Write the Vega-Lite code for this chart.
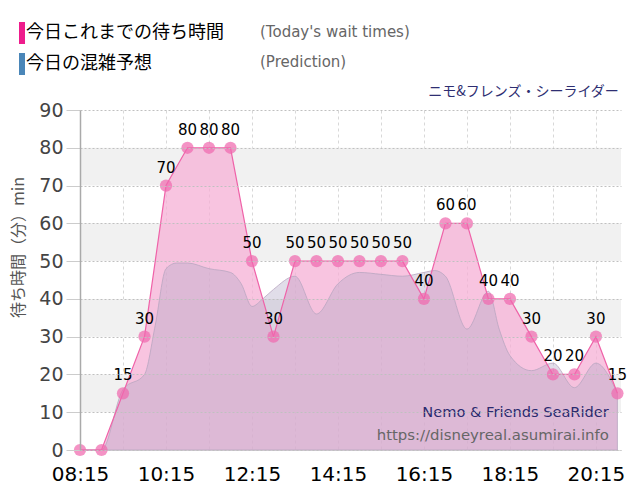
{
  "$schema": "https://vega.github.io/schema/vega-lite/v6.json",
  "width": 541,
  "height": 340,
  "autosize": {"type": "none"},
  "padding": {"left": 80, "top": 110, "right": 19, "bottom": 50},
  "background": "white",
  "config": {
    "view": {"stroke": null, "fill": "#f9f9f9"},
    "font": "DejaVu Sans",
    "axisY": {
      "grid": true, "ticks": true,
      "labelFontSize": 19, "labelColor": "#444", "labelFont": "DejaVu Sans",
      "tickColor": "#cccccc", "tickSize": 14, "labelPadding": 3,
      "domainColor": "#aaaaaa", "domainWidth": 1.5,
      "gridColor": "#c0c0c0", "gridDash": [2, 2], "gridOpacity": 1,
      "titleFont": "Noto Sans CJK JP", "titleFontSize": 16, "titleColor": "#555555",
      "titleFontWeight": "normal", "titlePadding": 12, "zindex": 1
    },
    "axisX": {
      "grid": true,
      "labelFontSize": 20, "labelColor": "#000000", "labelFont": "DejaVu Sans",
      "tickSize": 0, "labelPadding": 14, "domainColor": "#dddddd",
      "gridColor": "#d8d8d8", "gridDash": [3, 3], "labelOverlap": false, "labelFlush": false, "zindex": 1
    }
  },
  "datasets": {
    "wait": [
      {"t": "2024-01-01T08:15:00", "v": 0},
      {"t": "2024-01-01T08:45:00", "v": 0},
      {"t": "2024-01-01T09:15:00", "v": 15},
      {"t": "2024-01-01T09:45:00", "v": 30},
      {"t": "2024-01-01T10:15:00", "v": 70},
      {"t": "2024-01-01T10:45:00", "v": 80},
      {"t": "2024-01-01T11:15:00", "v": 80},
      {"t": "2024-01-01T11:45:00", "v": 80},
      {"t": "2024-01-01T12:15:00", "v": 50},
      {"t": "2024-01-01T12:45:00", "v": 30},
      {"t": "2024-01-01T13:15:00", "v": 50},
      {"t": "2024-01-01T13:45:00", "v": 50},
      {"t": "2024-01-01T14:15:00", "v": 50},
      {"t": "2024-01-01T14:45:00", "v": 50},
      {"t": "2024-01-01T15:15:00", "v": 50},
      {"t": "2024-01-01T15:45:00", "v": 50},
      {"t": "2024-01-01T16:15:00", "v": 40},
      {"t": "2024-01-01T16:45:00", "v": 60},
      {"t": "2024-01-01T17:15:00", "v": 60},
      {"t": "2024-01-01T17:45:00", "v": 40},
      {"t": "2024-01-01T18:15:00", "v": 40},
      {"t": "2024-01-01T18:45:00", "v": 30},
      {"t": "2024-01-01T19:15:00", "v": 20},
      {"t": "2024-01-01T19:45:00", "v": 20},
      {"t": "2024-01-01T20:15:00", "v": 30},
      {"t": "2024-01-01T20:45:00", "v": 15}
    ],
    "pred": [
      {"t": "2024-01-01T08:15:00", "v": 0},
      {"t": "2024-01-01T08:45:00", "v": 0},
      {"t": "2024-01-01T09:15:00", "v": 16},
      {"t": "2024-01-01T09:45:00", "v": 20},
      {"t": "2024-01-01T10:00:00", "v": 33},
      {"t": "2024-01-01T10:15:00", "v": 48},
      {"t": "2024-01-01T10:30:00", "v": 49.5},
      {"t": "2024-01-01T10:45:00", "v": 49.5},
      {"t": "2024-01-01T11:15:00", "v": 48},
      {"t": "2024-01-01T11:45:00", "v": 47},
      {"t": "2024-01-01T12:00:00", "v": 44},
      {"t": "2024-01-01T12:15:00", "v": 38},
      {"t": "2024-01-01T12:30:00", "v": 40},
      {"t": "2024-01-01T12:45:00", "v": 42.5},
      {"t": "2024-01-01T13:15:00", "v": 46},
      {"t": "2024-01-01T13:45:00", "v": 36},
      {"t": "2024-01-01T14:15:00", "v": 44},
      {"t": "2024-01-01T14:45:00", "v": 47},
      {"t": "2024-01-01T15:15:00", "v": 46.5},
      {"t": "2024-01-01T15:45:00", "v": 46},
      {"t": "2024-01-01T16:15:00", "v": 47},
      {"t": "2024-01-01T16:30:00", "v": 47.5},
      {"t": "2024-01-01T16:45:00", "v": 46},
      {"t": "2024-01-01T17:15:00", "v": 32},
      {"t": "2024-01-01T17:45:00", "v": 42},
      {"t": "2024-01-01T18:00:00", "v": 32},
      {"t": "2024-01-01T18:15:00", "v": 25},
      {"t": "2024-01-01T18:45:00", "v": 21},
      {"t": "2024-01-01T19:15:00", "v": 23},
      {"t": "2024-01-01T19:45:00", "v": 16.5},
      {"t": "2024-01-01T20:15:00", "v": 23},
      {"t": "2024-01-01T20:45:00", "v": 15}
    ],
    "bands": [
      {"v": 10, "v2": 20},
      {"v": 30, "v2": 40},
      {"v": 50, "v2": 60},
      {"v": 70, "v2": 80}
    ],
    "legend": [
      {"series": "今日これまでの待ち時間", "en": "(Today's wait times)"},
      {"series": "今日の混雑予想", "en": "(Prediction)"}
    ]
  },
  "layer": [
    {
      "data": {"name": "bands"},
      "mark": {"type": "rect", "fill": "#f1f1f1"},
      "encoding": {
        "x": {
          "datum": {"year": 2024, "month": 1, "date": 1, "hours": 8, "minutes": 15}, "type": "temporal", "title": null,
          "scale": {"domain": [
            {"year": 2024, "month": 1, "date": 1, "hours": 8, "minutes": 15},
            {"year": 2024, "month": 1, "date": 1, "hours": 20, "minutes": 50}
          ]},
          "axis": {
            "grid": true,
            "values": [
              {"year": 2024, "month": 1, "date": 1, "hours": 8, "minutes": 15},
              {"year": 2024, "month": 1, "date": 1, "hours": 8, "minutes": 45},
              {"year": 2024, "month": 1, "date": 1, "hours": 9, "minutes": 15},
              {"year": 2024, "month": 1, "date": 1, "hours": 9, "minutes": 45},
              {"year": 2024, "month": 1, "date": 1, "hours": 10, "minutes": 15},
              {"year": 2024, "month": 1, "date": 1, "hours": 10, "minutes": 45},
              {"year": 2024, "month": 1, "date": 1, "hours": 11, "minutes": 15},
              {"year": 2024, "month": 1, "date": 1, "hours": 11, "minutes": 45},
              {"year": 2024, "month": 1, "date": 1, "hours": 12, "minutes": 15},
              {"year": 2024, "month": 1, "date": 1, "hours": 12, "minutes": 45},
              {"year": 2024, "month": 1, "date": 1, "hours": 13, "minutes": 15},
              {"year": 2024, "month": 1, "date": 1, "hours": 13, "minutes": 45},
              {"year": 2024, "month": 1, "date": 1, "hours": 14, "minutes": 15},
              {"year": 2024, "month": 1, "date": 1, "hours": 14, "minutes": 45},
              {"year": 2024, "month": 1, "date": 1, "hours": 15, "minutes": 15},
              {"year": 2024, "month": 1, "date": 1, "hours": 15, "minutes": 45},
              {"year": 2024, "month": 1, "date": 1, "hours": 16, "minutes": 15},
              {"year": 2024, "month": 1, "date": 1, "hours": 16, "minutes": 45},
              {"year": 2024, "month": 1, "date": 1, "hours": 17, "minutes": 15},
              {"year": 2024, "month": 1, "date": 1, "hours": 17, "minutes": 45},
              {"year": 2024, "month": 1, "date": 1, "hours": 18, "minutes": 15},
              {"year": 2024, "month": 1, "date": 1, "hours": 18, "minutes": 45},
              {"year": 2024, "month": 1, "date": 1, "hours": 19, "minutes": 15},
              {"year": 2024, "month": 1, "date": 1, "hours": 19, "minutes": 45},
              {"year": 2024, "month": 1, "date": 1, "hours": 20, "minutes": 15},
              {"year": 2024, "month": 1, "date": 1, "hours": 20, "minutes": 45}
            ],
            "labelExpr": "(hours(datum.value) * 60 + minutes(datum.value) - 495) % 120 == 0 ? timeFormat(datum.value, '%H:%M') : ''"
          }
        },
        "x2": {"datum": {"year": 2024, "month": 1, "date": 1, "hours": 20, "minutes": 50}},
        "y": {
          "field": "v", "type": "quantitative", "title": "待ち時間（分）min",
          "scale": {"domain": [0, 90], "nice": false},
          "axis": {"grid": true, "ticks": true, "zindex": 1, "gridOpacity": 1, "values": [0, 10, 20, 30, 40, 50, 60, 70, 80, 90], "titleY": 137}
        },
        "y2": {"field": "v2"}
      }
    },
    {
      "data": {"name": "wait"},
      "mark": {"type": "area", "interpolate": "linear", "fill": "#f5b0d5", "fillOpacity": 0.75},
      "encoding": {
        "x": {"field": "t", "type": "temporal", "title": null},
        "y": {"field": "v", "type": "quantitative", "title": "待ち時間（分）min", "axis": {"grid": true, "ticks": true, "zindex": 1, "gridOpacity": 1, "values": [0, 10, 20, 30, 40, 50, 60, 70, 80, 90], "titleY": 137}}
      }
    },
    {
      "data": {"name": "pred"},
      "mark": {"type": "area", "interpolate": "monotone", "fill": "#b4aac8", "fillOpacity": 0.4, "stroke": "#b9a6c0", "strokeWidth": 0.8},
      "encoding": {
        "x": {"field": "t", "type": "temporal", "title": null},
        "y": {"field": "v", "type": "quantitative", "title": "待ち時間（分）min", "axis": {"grid": true, "ticks": true, "zindex": 1, "gridOpacity": 1, "values": [0, 10, 20, 30, 40, 50, 60, 70, 80, 90], "titleY": 137}}
      }
    },
    {
      "data": {"name": "wait"},
      "mark": {"type": "line", "interpolate": "linear", "color": "#ef62a8", "strokeWidth": 1.2},
      "encoding": {
        "x": {"field": "t", "type": "temporal", "title": null},
        "y": {"field": "v", "type": "quantitative", "title": "待ち時間（分）min", "axis": {"grid": true, "ticks": true, "zindex": 1, "gridOpacity": 1, "values": [0, 10, 20, 30, 40, 50, 60, 70, 80, 90], "titleY": 137}}
      }
    },
    {
      "data": {"name": "wait"},
      "mark": {"type": "point", "filled": true, "size": 150, "color": "#f06aae", "opacity": 0.72},
      "encoding": {
        "x": {"field": "t", "type": "temporal", "title": null},
        "y": {"field": "v", "type": "quantitative", "title": "待ち時間（分）min", "axis": {"grid": true, "ticks": true, "zindex": 1, "gridOpacity": 1, "values": [0, 10, 20, 30, 40, 50, 60, 70, 80, 90], "titleY": 137}}
      }
    },
    {
      "data": {"name": "wait"},
      "transform": [{"filter": "datum.v > 0"}],
      "mark": {"type": "text", "dy": -18, "fontSize": 15, "color": "#000000", "font": "DejaVu Sans"},
      "encoding": {
        "x": {"field": "t", "type": "temporal", "title": null},
        "y": {"field": "v", "type": "quantitative", "title": "待ち時間（分）min", "axis": {"grid": true, "ticks": true, "zindex": 1, "gridOpacity": 1, "values": [0, 10, 20, 30, 40, 50, 60, 70, 80, 90], "titleY": 137}},
        "text": {"field": "v", "type": "quantitative"}
      }
    },
    {
      "data": {"values": [{"note": "Nemo & Friends SeaRider"}]},
      "mark": {"type": "text", "align": "right", "baseline": "middle", "fontSize": 14.6, "color": "#2a2a6e", "font": "DejaVu Sans"},
      "encoding": {
        "x": {"datum": {"year": 2024, "month": 1, "date": 1, "hours": 20, "minutes": 33}, "type": "temporal", "title": null},
        "y": {"datum": 9.8, "type": "quantitative", "title": "待ち時間（分）min", "axis": {"grid": true, "ticks": true, "zindex": 1, "gridOpacity": 1, "values": [0, 10, 20, 30, 40, 50, 60, 70, 80, 90], "titleY": 137}},
        "text": {"field": "note", "type": "nominal"}
      }
    },
    {
      "data": {"values": [{"note": "https://disneyreal.asumirai.info"}]},
      "mark": {"type": "text", "align": "right", "baseline": "middle", "fontSize": 14.9, "color": "#666666", "font": "DejaVu Sans"},
      "encoding": {
        "x": {"datum": {"year": 2024, "month": 1, "date": 1, "hours": 20, "minutes": 33}, "type": "temporal", "title": null},
        "y": {"datum": 3.7, "type": "quantitative", "title": "待ち時間（分）min", "axis": {"grid": true, "ticks": true, "zindex": 1, "gridOpacity": 1, "values": [0, 10, 20, 30, 40, 50, 60, 70, 80, 90], "titleY": 137}},
        "text": {"field": "note", "type": "nominal"}
      }
    },
    {
      "data": {"values": [{"note": "ニモ&フレンズ・シーライダー"}]},
      "mark": {"type": "text", "align": "right", "baseline": "middle", "fontSize": 14, "color": "#2e2e72", "font": "Noto Sans CJK JP"},
      "encoding": {
        "x": {"datum": {"year": 2024, "month": 1, "date": 1, "hours": 20, "minutes": 47}, "type": "temporal", "title": null},
        "y": {"datum": 94.8, "type": "quantitative", "title": "待ち時間（分）min", "axis": {"grid": true, "ticks": true, "zindex": 1, "gridOpacity": 1, "values": [0, 10, 20, 30, 40, 50, 60, 70, 80, 90], "titleY": 137}},
        "text": {"field": "note", "type": "nominal"}
      }
    },
    {
      "data": {"name": "legend"},
      "mark": {"type": "point", "filled": true, "size": 0, "opacity": 1},
      "encoding": {
        "color": {
          "field": "series", "type": "nominal",
          "scale": {"domain": ["今日これまでの待ち時間", "今日の混雑予想"], "range": ["#ee1c8c", "#4a86b8"]},
          "legend": {
            "title": null, "orient": "none", "legendX": -66, "legendY": -86, "direction": "vertical",
            "symbolType": "M-1,-2.75H0.5V2.75H-1Z", "symbolSize": 64, "symbolStrokeWidth": 0, "symbolOpacity": 1,
            "labelFont": "Noto Sans CJK JP", "labelFontSize": 18, "labelColor": "#000000", "labelLimit": 400,
            "rowPadding": 9, "labelOffset": -6
          }
        },
        "shape": {
          "field": "en", "type": "nominal",
          "scale": {"domain": ["(Today's wait times)", "(Prediction)"], "range": ["circle", "square"]},
          "legend": {
            "title": null, "orient": "none", "legendX": 165, "legendY": -86, "direction": "vertical",
            "symbolSize": 0, "symbolOpacity": 0, "symbolStrokeWidth": 0,
            "labelFont": "DejaVu Sans", "labelFontSize": 15, "labelColor": "#666666", "labelLimit": 400,
            "rowPadding": 14, "labelOffset": 0
          }
        }
      }
    }
  ]
}
